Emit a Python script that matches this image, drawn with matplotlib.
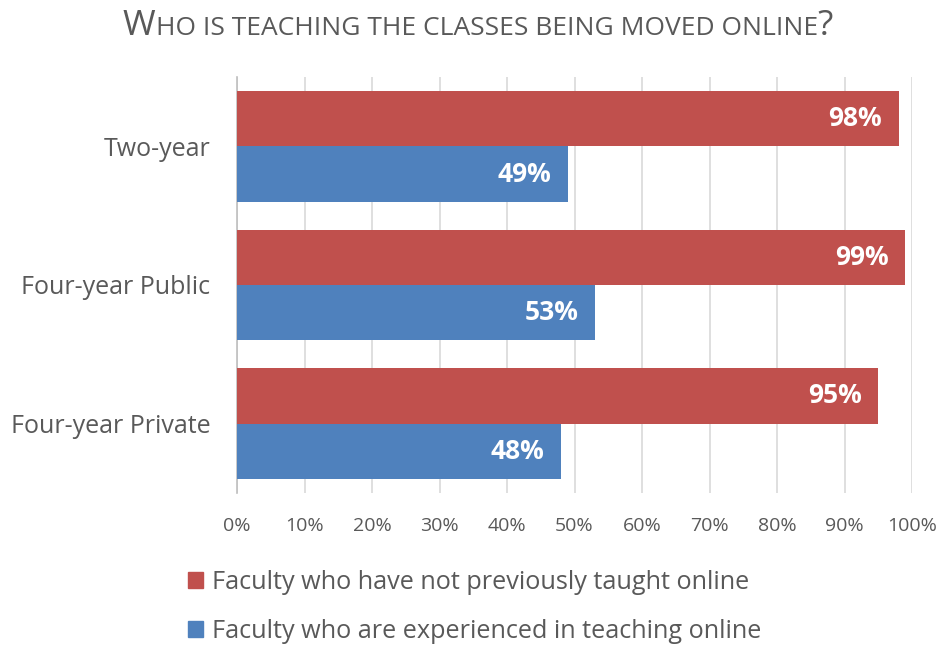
import matplotlib.pyplot as plt
from matplotlib.patches import Patch
import numpy as np

categories = ['Two-year', 'Four-year Public', 'Four-year Private']
not_taught = [98, 99, 95]      # Faculty who have not previously taught online
experienced = [49, 53, 48]     # Faculty who are experienced in teaching online
series_names = ['Faculty who have not previously taught online',
                'Faculty who are experienced in teaching online']
ticks = list(range(0, 101, 10))

RED = '#C0504D'
BLUE = '#4F81BD'
GRAY = '#595959'

plt.rcParams['font.family'] = ['Open Sans', 'DejaVu Sans']

fig = plt.figure(figsize=(9.41, 6.45), dpi=100)
ax = fig.add_axes([237 / 941, 1 - 493 / 645, 675 / 941, 416 / 645])

y = np.arange(len(categories))
h = 0.4
red_bars = ax.barh(y - h / 2, not_taught, height=h, color=RED, zorder=3)
blue_bars = ax.barh(y + h / 2, experienced, height=h, color=BLUE, zorder=3)

for bars, vals in [(red_bars, not_taught), (blue_bars, experienced)]:
    for b, v in zip(bars, vals):
        ax.annotate(f"{v}%", xy=(v, b.get_y() + b.get_height() / 2),
                    xytext=(-12, 0), textcoords='offset points',
                    ha='right', va='center', color='white',
                    fontsize=19, fontweight='bold', zorder=4)

ax.set_xlim(0, 100)
ax.set_ylim(len(categories) - 0.5, -0.5)
ax.set_xticks(ticks)
ax.set_xticklabels([f"{t}%" for t in ticks])
ax.set_yticks(y)
ax.set_yticklabels(categories)
ax.tick_params(axis='x', length=0, pad=17, labelsize=14, labelcolor=GRAY)
ax.tick_params(axis='y', length=0, pad=19, labelsize=18, labelcolor=GRAY)
ax.grid(axis='x', color='#D9D9D9', linewidth=1.2, zorder=0)
for s in ['top', 'right', 'bottom']:
    ax.spines[s].set_visible(False)
ax.spines['left'].set_color('#BFBFBF')
ax.spines['left'].set_linewidth(1.2)

# small-caps style title built from pieces
pieces = [('W', 25.5), ('HO IS TEACHING THE CLASSES BEING MOVED ONLINE', 19), ('?', 25.5)]
renderer = fig.canvas.get_renderer()
texts = []
for s, size in pieces:
    t = fig.text(0, 1 - 35 / 645, s, fontsize=size, color=GRAY, va='baseline', ha='left')
    texts.append(t)
widths = [t.get_window_extent(renderer).width for t in texts]
x0 = 478 - sum(widths) / 2
for t, w in zip(texts, widths):
    t.set_x(x0 / 941)
    x0 += w

handles = [Patch(color=RED), Patch(color=BLUE)]
fig.legend(handles, series_names, loc='upper left', bbox_to_anchor=(178 / 941, 1 - 560 / 645),
           frameon=False, fontsize=18.2, labelcolor=GRAY, handlelength=0.6, handleheight=0.6,
           handletextpad=0.35, labelspacing=0.95, borderaxespad=0)

fig.savefig('out.png', dpi=100)
